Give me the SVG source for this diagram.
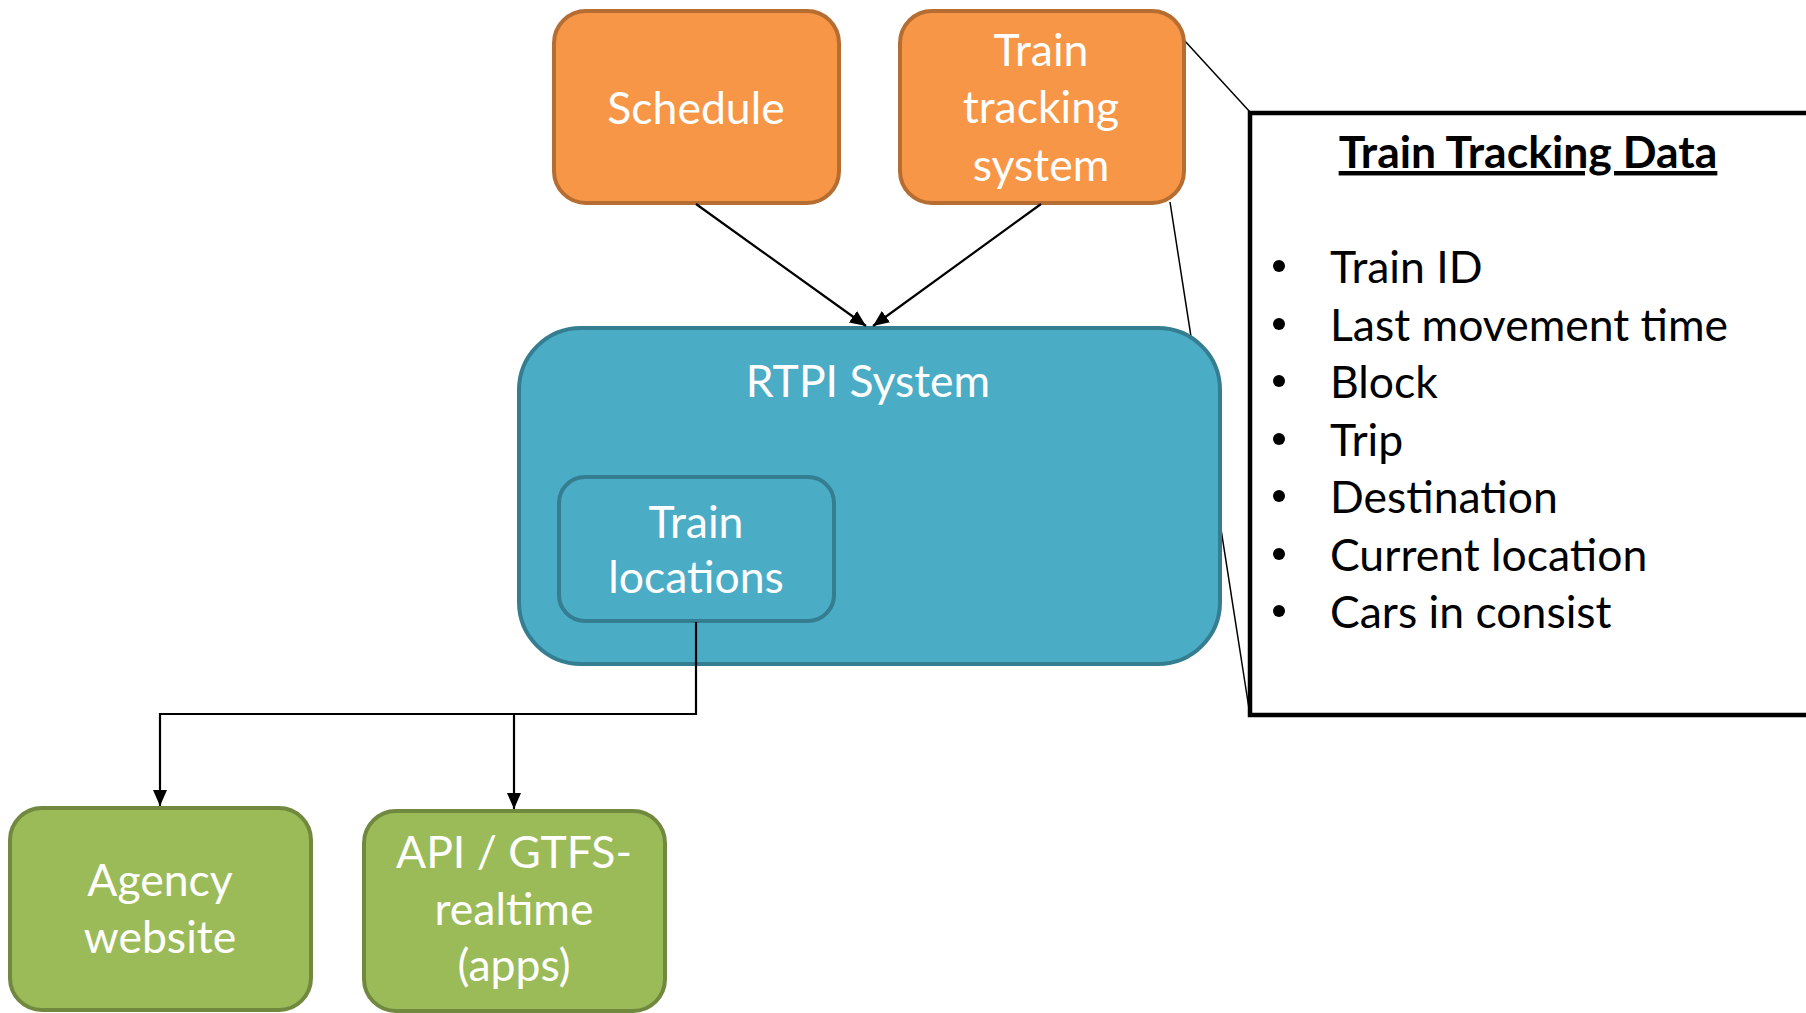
<svg xmlns="http://www.w3.org/2000/svg" width="1806" height="1013" viewBox="0 0 1806 1013">
<defs>
<style>
.t{font-family:Lato,"Open Sans","Liberation Sans",sans-serif;font-size:44.5px;fill:#fff;text-anchor:middle}
.k{font-family:Lato,"Open Sans","Liberation Sans",sans-serif;font-size:44.5px;fill:#000}
.or{fill:#F79646;stroke:#B66D31;stroke-width:4}
.bl{fill:#4BACC6;stroke:#357D91;stroke-width:4}
.gr{fill:#9BBB59;stroke:#71893F;stroke-width:4}
.c{fill:none;stroke:#000;stroke-width:2.2}
.thin{fill:none;stroke:#000;stroke-width:1.5}
</style>
<marker id="ah" viewBox="0 0 16 14" refX="16" refY="7" markerWidth="16" markerHeight="14" markerUnits="userSpaceOnUse" orient="auto">
<path d="M0,0 L16,7 L0,14 z" fill="#000"/>
</marker>
</defs>
<rect width="1806" height="1013" fill="#fff"/>
<g id="callout-lines">
<line class="thin" x1="1184" y1="40" x2="1250" y2="112"/>
<line class="thin" x1="1170" y1="202" x2="1250" y2="715"/>
</g>
<g id="schedule">
<rect class="or" x="554" y="11" width="285" height="192" rx="32"/>
<text class="t" x="696" y="124">Schedule</text>
</g>
<g id="train-tracking-system">
<rect class="or" x="900" y="11" width="284" height="192" rx="32"/>
<text class="t" x="1041" y="66">Train</text>
<text class="t" x="1041" y="123">tracking</text>
<text class="t" x="1041" y="181">system</text>
</g>
<g id="rtpi-system">
<rect class="bl" x="519" y="328" width="701" height="336" rx="62"/>
<text class="t" x="868" y="397">RTPI System</text>
</g>
<g id="train-locations">
<rect class="bl" x="559" y="477" width="275" height="144" rx="26"/>
<text class="t" x="696" y="538">Train</text>
<text class="t" x="696" y="593">locations</text>
</g>
<g id="agency-website">
<rect class="gr" x="10" y="808" width="301" height="202" rx="32"/>
<text class="t" x="160" y="896">Agency</text>
<text class="t" x="160" y="953">website</text>
</g>
<g id="api-gtfs">
<rect class="gr" x="364" y="811" width="301" height="200" rx="32"/>
<text class="t" x="514" y="868">API / GTFS-</text>
<text class="t" x="514" y="925">realtime</text>
<text class="t" x="514" y="981">(apps)</text>
</g>
<g id="train-tracking-data">
<rect x="1250" y="113" width="560" height="602" fill="#fff" stroke="#000" stroke-width="4.5"/>
<text class="k" x="1528" y="168" text-anchor="middle" font-weight="bold" text-decoration="underline">Train Tracking Data</text>
<g class="k">
<circle cx="1279" cy="266" r="6"/><text class="k" x="1330" y="283">Train ID</text>
<circle cx="1279" cy="324" r="6"/><text class="k" x="1330" y="341">Last movement time</text>
<circle cx="1279" cy="381" r="6"/><text class="k" x="1330" y="398">Block</text>
<circle cx="1279" cy="439" r="6"/><text class="k" x="1330" y="456">Trip</text>
<circle cx="1279" cy="496" r="6"/><text class="k" x="1330" y="513">Destination</text>
<circle cx="1279" cy="554" r="6"/><text class="k" x="1330" y="571">Current location</text>
<circle cx="1279" cy="611" r="6"/><text class="k" x="1330" y="628">Cars in consist</text>
</g>
</g>
<g id="connectors">
<line class="c" x1="696" y1="204" x2="866" y2="326" marker-end="url(#ah)"/>
<line class="c" x1="1041" y1="204" x2="873" y2="326" marker-end="url(#ah)"/>
<polyline class="c" points="696,622 696,714 160,714 160,806" marker-end="url(#ah)"/>
<polyline class="c" points="514,714 514,809" marker-end="url(#ah)"/>
</g>
</svg>
